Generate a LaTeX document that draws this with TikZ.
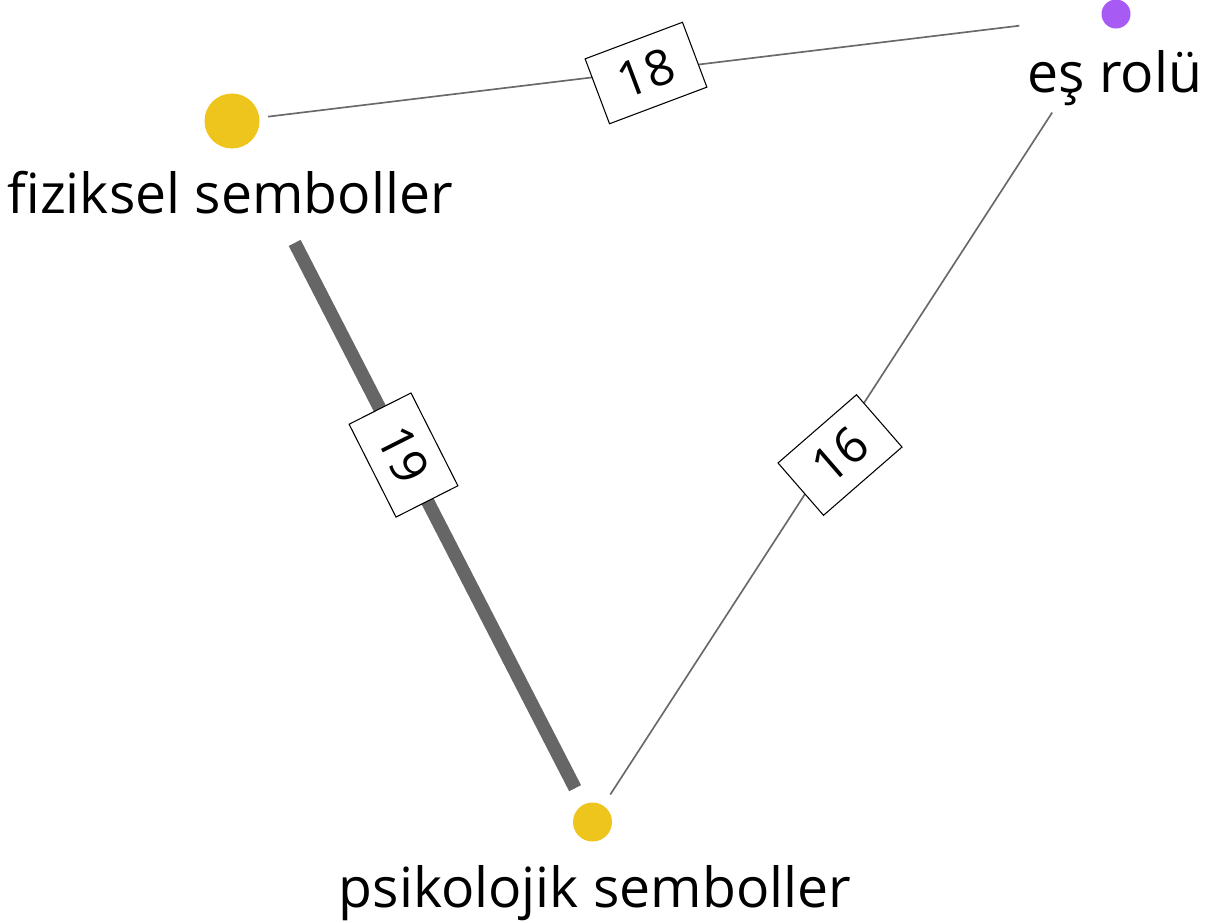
\documentclass[tikz,border=0pt]{standalone}
\usepackage{fontspec}
\setmainfont{Open Sans}
\definecolor{nodeyellow}{RGB}{237,197,28}
\definecolor{nodepurple}{RGB}{168,90,245}
\definecolor{edgegray}{RGB}{102,102,102}
\definecolor{thingray}{RGB}{105,105,105}
\tikzset{
  dot/.style={circle,inner sep=0pt,draw=none},
  nodetext/.style={anchor=base,inner sep=0pt,font=\fontsize{41.5}{50}\selectfont},
  weightbox/.style={draw=black,line width=0.8pt,fill=white,inner sep=0pt,
    minimum width=78pt,minimum height=52pt,font=\fontsize{37}{44}\selectfont},
  thickedge/.style={draw=edgegray,line width=10pt},
  thinedge/.style={draw=thingray,line width=1.25pt},
}
\begin{document}
\begin{tikzpicture}[x=0.75pt,y=-0.75pt]
\useasboundingbox (0,0) rectangle (1219,922);
% nodes
\node[dot,fill=nodeyellow,minimum size=41.25pt] (fc) at (232,121) {};
\node[dot,fill=nodepurple,minimum size=21.75pt] (ec) at (1116,14) {};
\node[dot,fill=nodeyellow,minimum size=29.25pt] (pc) at (592.5,822) {};
\node[nodetext] (ft) at (230,213) {fiziksel semboller};
\node[nodetext] (et) at (1115,92) {eş rolü};
\node[nodetext] (pt) at (595,907) {psikolojik semboller};
% edges
\draw[thickedge,shorten <=82pt,shorten >=13.7pt] (fc) -- (pc);
\draw[thinedge,shorten <=6.5pt,shorten >=62pt] (fc) -- (ec);
\draw[thinedge,shorten <=77pt,shorten >=9.75pt] (ec) -- (pc);
% weight labels
\node[weightbox,rotate=-63.2] (w19) at (403.5,455) {19};
\node[weightbox,rotate=20.6] (w18) at (646,73) {18};
\node[weightbox,rotate=41] (w16) at (840,455) {16};
\end{tikzpicture}
\end{document}
